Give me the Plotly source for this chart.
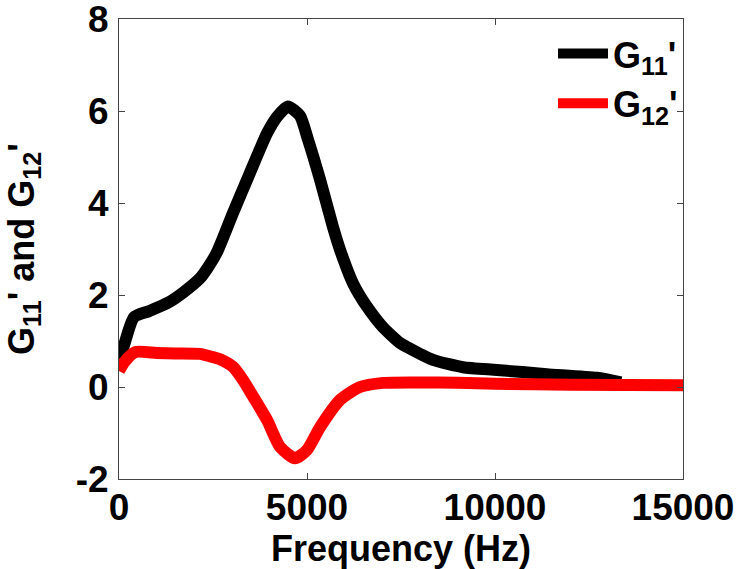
import plotly.graph_objects as go

freq_g11 = [0, 150, 400, 800, 1300, 1700, 2150, 2350, 2600, 3030, 3480, 3940, 4200, 4490,
            4810, 5030, 5350, 5690, 5880, 6220, 6600, 7020, 7470, 7660, 8350, 9150,
            10050, 11380, 12710, 13350]
g11 = [0.5, 0.95, 1.52, 1.65, 1.83, 2.05, 2.36, 2.58, 2.92, 3.78, 4.65, 5.52, 5.87, 6.1,
       5.9, 5.37, 4.5, 3.48, 2.98, 2.26, 1.74, 1.3, 0.96, 0.87, 0.59, 0.43,
       0.37, 0.28, 0.2, 0.1]

freq_g12 = [0, 150, 430, 1000, 1500, 2150, 2500, 2700, 3030, 3300, 3560, 3940, 4280,
            4680, 5000, 5350, 5880, 6410, 7020, 8000, 9000, 10000, 12000, 15000]
g12 = [0.35, 0.55, 0.76, 0.74, 0.73, 0.72, 0.65, 0.6, 0.44, 0.15, -0.2, -0.72, -1.3,
       -1.55, -1.37, -0.87, -0.28, 0.0, 0.09, 0.1, 0.09, 0.07, 0.05, 0.04]

x_ticks = [0, 5000, 10000, 15000]
y_ticks = [-2, 0, 2, 4, 6, 8]

FONT = "Liberation Sans, Arial, sans-serif"

fig = go.Figure()
fig.add_trace(go.Scatter(x=freq_g11, y=g11, mode="lines", name="G<sub>11</sub>'",
                         line=dict(color="black", width=12, shape="spline", smoothing=0.6)))
fig.add_trace(go.Scatter(x=freq_g12, y=g12, mode="lines", name="G<sub>12</sub>'",
                         line=dict(color="red", width=12, shape="spline", smoothing=0.6)))

axis_common = dict(showline=True, linecolor="#444444", linewidth=1, mirror="ticks",
                   ticks="inside", ticklen=6, tickcolor="#444444", showgrid=False,
                   zeroline=False, automargin=False, ticklabeloverflow="allow",
                   tickfont=dict(family=FONT, size=37, color="black", weight="bold"))

fig.update_layout(
    width=738, height=569,
    margin=dict(l=119, r=55, t=19, b=90),
    paper_bgcolor="white", plot_bgcolor="white",
    font=dict(family=FONT, color="black"),
    xaxis=dict(range=[0, 15000], tickvals=x_ticks, ticktext=[str(v) for v in x_ticks],
               ticklabelstandoff=-4,
               title=dict(text="Frequency (Hz)", standoff=0,
                          font=dict(family=FONT, size=36, color="black", weight="bold")),
               **axis_common),
    yaxis=dict(range=[-2, 8], tickvals=y_ticks, ticktext=[str(v) for v in y_ticks],
               ticklabelstandoff=2,
               title=dict(text="G<sub>11</sub>' and G<sub>12</sub>'", standoff=30,
                          font=dict(family=FONT, size=36, color="black", weight="bold")),
               **axis_common),
    legend=dict(x=1, xanchor="right", y=0.99, yanchor="top", bgcolor="rgba(0,0,0,0)",
                font=dict(family=FONT, size=36, color="black", weight="bold"),
                itemwidth=50, tracegroupgap=0),
    showlegend=True,
)

fig.write_html("out.html")
